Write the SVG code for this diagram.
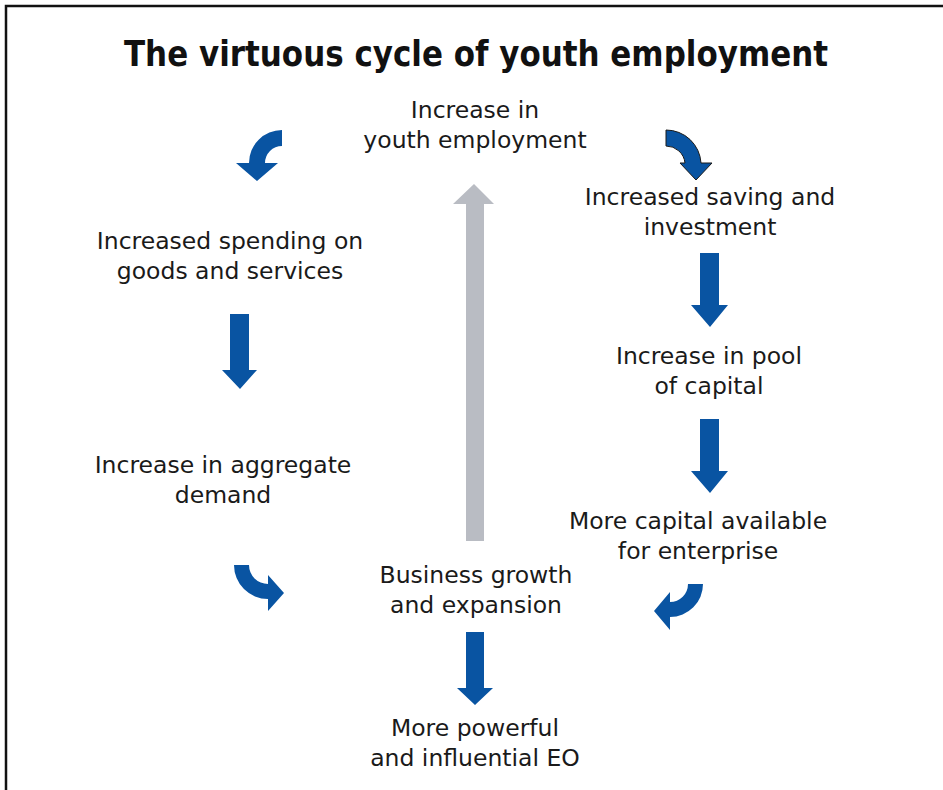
<svg xmlns="http://www.w3.org/2000/svg" width="943" height="790" viewBox="0 0 943 790">
<style>
.t{font-family:"DejaVu Sans","Noto Sans",sans-serif;font-size:23.5px;fill:#1a1a1a;text-anchor:middle}
.title{font-family:"DejaVu Sans","Noto Sans",sans-serif;font-size:35px;font-weight:bold;fill:#111;text-anchor:middle}
.b{fill:#0954a2}
.g{fill:#b9bcc3}
</style>
<rect x="0" y="0" width="943" height="790" fill="#fff"/>
<path d="M6,790 V6 H943" fill="none" stroke="#111" stroke-width="2.5"/>
<text class="title" x="476" y="66" textLength="704" lengthAdjust="spacingAndGlyphs">The virtuous cycle of youth employment</text>

<g id="n-youth"><text class="t" x="475" y="118">Increase in</text><text class="t" x="475" y="148">youth employment</text></g>
<g id="n-saving"><text class="t" x="710" y="205">Increased saving and</text><text class="t" x="710" y="235">investment</text></g>
<g id="n-spending"><text class="t" x="230" y="249">Increased spending on</text><text class="t" x="230" y="279">goods and services</text></g>
<g id="n-pool"><text class="t" x="709" y="364">Increase in pool</text><text class="t" x="709" y="394">of capital</text></g>
<g id="n-demand"><text class="t" x="223" y="473">Increase in aggregate</text><text class="t" x="223" y="503">demand</text></g>
<g id="n-capital"><text class="t" x="698" y="529">More capital available</text><text class="t" x="698" y="559">for enterprise</text></g>
<g id="n-business"><text class="t" x="476" y="583">Business growth</text><text class="t" x="476" y="613">and expansion</text></g>
<g id="n-eo"><text class="t" x="475" y="736">More powerful</text><text class="t" x="475" y="766">and influential EO</text></g>

<g id="connectors">
<path class="b" d="M282,130 A33,33 0 0 0 249,163 L236,163 L257,181 L278,163 L265,163 A17,17 0 0 1 282,146 Z"/>
<path class="b" stroke="#1a1a1a" stroke-width="1" d="M666,130 A35,35 0 0 1 701,163 L712,163 L696,180 L680,163 L685,163 A19,19 0 0 0 666,146 Z"/>
<path class="b" d="M234,565 L249,565 A19,19 0 0 0 268,584 L268,575 L284,593 L268,611 L268,599 A34,34 0 0 1 234,565 Z"/>
<path class="b" d="M688,584 L703,584 A33,33 0 0 1 670,617 L670,630 L654,611 L670,592 L670,602 A18,18 0 0 0 688,584 Z"/>
<path class="b" d="M230,314 H249 V370 H257 L240,389 L222,370 H230 Z"/>
<path class="b" d="M466,632 H484 V688 H493 L475,705 L457,688 H466 Z"/>
<path class="b" d="M700,253 H719 V305 H728 L710,327 L691,305 H700 Z"/>
<path class="b" d="M700,419 H719 V471 H728 L710,493 L691,471 H700 Z"/>
<path class="g" d="M466,541 V204 H453 L474,184 L494,204 H484 V541 Z"/>
</g>
</svg>
